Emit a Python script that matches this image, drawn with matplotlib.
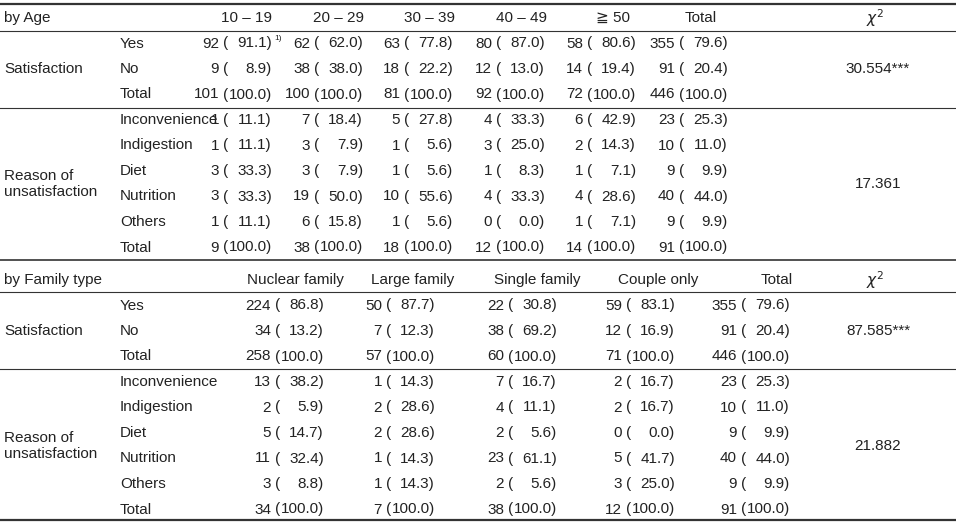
import matplotlib.pyplot as plt

age_groups = ["10 – 19", "20 – 29", "30 – 39", "40 – 49", "≧ 50", "Total"]
age_sat_rows = ["Yes", "No", "Total"]
age_sat_n = [[92, 62, 63, 80, 58, 355], [9, 38, 18, 12, 14, 91], [101, 100, 81, 92, 72, 446]]
age_sat_p = [[91.1, 62.0, 77.8, 87.0, 80.6, 79.6], [8.9, 38.0, 22.2, 13.0, 19.4, 20.4],
             [100.0] * 6]
reason_rows = ["Inconvenience", "Indigestion", "Diet", "Nutrition", "Others", "Total"]
age_rea_n = [[1, 7, 5, 4, 6, 23], [1, 3, 1, 3, 2, 10], [3, 3, 1, 1, 1, 9],
             [3, 19, 10, 4, 4, 40], [1, 6, 1, 0, 1, 9], [9, 38, 18, 12, 14, 91]]
age_rea_p = [[11.1, 18.4, 27.8, 33.3, 42.9, 25.3], [11.1, 7.9, 5.6, 25.0, 14.3, 11.0],
             [33.3, 7.9, 5.6, 8.3, 7.1, 9.9], [33.3, 50.0, 55.6, 33.3, 28.6, 44.0],
             [11.1, 15.8, 5.6, 0.0, 7.1, 9.9], [100.0] * 6]
age_chi = ["30.554***", "17.361"]

fam_groups = ["Nuclear family", "Large family", "Single family", "Couple only", "Total"]
fam_sat_n = [[224, 50, 22, 59, 355], [34, 7, 38, 12, 91], [258, 57, 60, 71, 446]]
fam_sat_p = [[86.8, 87.7, 30.8, 83.1, 79.6], [13.2, 12.3, 69.2, 16.9, 20.4], [100.0] * 5]
fam_rea_n = [[13, 1, 7, 2, 23], [2, 2, 4, 2, 10], [5, 2, 2, 0, 9], [11, 1, 23, 5, 40],
             [3, 1, 2, 3, 9], [34, 7, 38, 12, 91]]
fam_rea_p = [[38.2, 14.3, 16.7, 16.7, 25.3], [5.9, 28.6, 11.1, 16.7, 11.0],
             [14.7, 28.6, 5.6, 0.0, 9.9], [32.4, 14.3, 61.1, 41.7, 44.0],
             [8.8, 14.3, 5.6, 25.0, 9.9], [100.0] * 5]
fam_chi = ["87.585***", "21.882"]

W, H = 956, 525
fig = plt.figure(figsize=(W / 100, H / 100), dpi=100)
ax = fig.add_axes([0, 0, 1, 1])
ax.set_xlim(0, W)
ax.set_ylim(H, 0)
ax.axis("off")
FS = 11
FAM = ["Liberation Sans", "DejaVu Sans", "Noto Sans CJK JP"]
C = "#222222"

def t(x, y, s, ha="left", fs=FS):
    ax.text(x, y, s, ha=ha, va="center", fontsize=fs, family=FAM, color=C)

def cell(xend, y, n, p):
    t(xend - 53, y, str(n), ha="right")
    t(xend - 49, y, "(")
    t(xend, y, f"{p:.1f})", ha="right")

def hline(y, lw):
    ax.plot([0, W], [y, y], color="#333333", lw=lw)

def block(y0, title, groups, hx, ends, sat_n, sat_p, rea_n, rea_p, chi):
    t(4, y0, title)
    for g, x in zip(groups, hx):
        t(x, y0, g, ha="center")
    ax.text(875, y0, r"$\chi^2$", ha="center", va="center", fontsize=FS, color=C)
    ys = [y0 + 25.5 * (i + 1) for i in range(3)]
    t(4, ys[1], "Satisfaction")
    for r, y in enumerate(ys):
        t(120, y, age_sat_rows[r])
        for j, xe in enumerate(ends):
            cell(xe, y, sat_n[r][j], sat_p[r][j])
    t(878, ys[1], chi[0], ha="center")
    yr = [ys[2] + 25.5 * (i + 1) for i in range(6)]
    t(4, (yr[2] + yr[3]) / 2, "Reason of\nunsatisfaction")
    for r, y in enumerate(yr):
        t(120, y, reason_rows[r])
        for j, xe in enumerate(ends):
            cell(xe, y, rea_n[r][j], rea_p[r][j])
    t(878, (yr[2] + yr[3]) / 2, chi[1], ha="center")

block(18, "by Age", age_groups, [247, 339, 430, 522, 613, 701],
      [272, 363, 453, 545, 636, 728], age_sat_n, age_sat_p, age_rea_n, age_rea_p, age_chi)
t(274, 38, "1)", fs=6)
block(280, "by Family type", fam_groups, [295, 413, 537, 658, 777],
      [324, 435, 557, 675, 790], fam_sat_n, fam_sat_p, fam_rea_n, fam_rea_p, fam_chi)

hline(4, 1.6)
hline(31, 0.8)
hline(107.5, 0.8)
hline(260, 1.2)
hline(292, 0.8)
hline(368.5, 0.8)
hline(520, 1.6)

fig.savefig("out.png", dpi=100)
